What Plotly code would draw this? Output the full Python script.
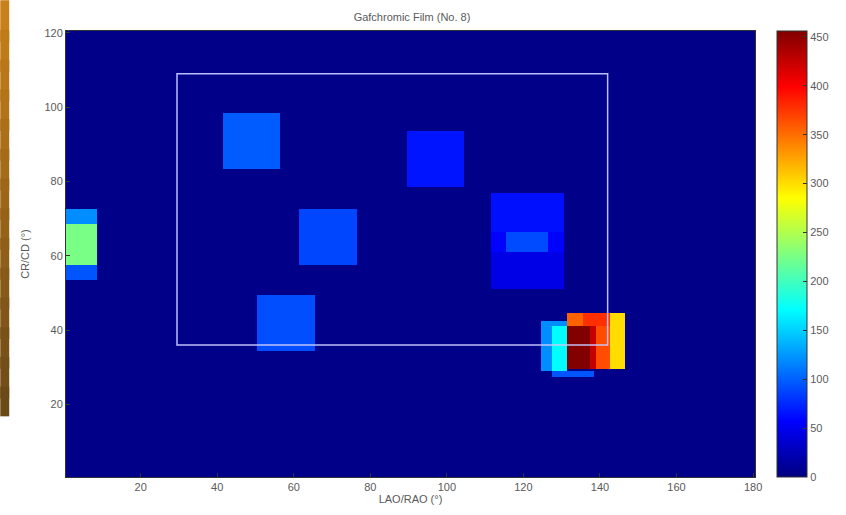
import numpy as np
import plotly.graph_objects as go

# Dose patches on the film: [x0, x1, y0, y1] in degrees and dose value.
# Later patches are painted over earlier ones.
patch_x0 = [0.5, 0.5, 0.5, 41.5, 61.5, 50.5, 89.5, 111.5, 111.5, 115.5, 111.5,
            124.5, 127.5, 127.5, 131.5, 135.5, 131.5, 131.5, 137.5, 139.0, 142.5]
patch_x1 = [8.5, 8.5, 8.5, 56.5, 76.5, 65.5, 104.5, 130.5, 130.5, 126.5, 130.5,
            131.5, 131.5, 138.5, 135.5, 142.5, 137.5, 137.5, 139.0, 142.5, 146.5]
patch_y0 = [53.5, 57.5, 68.5, 83.5, 57.5, 34.5, 78.5, 51.0, 61.0, 61.0, 66.5,
            29.0, 29.0, 27.5, 41.0, 41.0, 29.5, 29.5, 29.5, 29.5, 29.5]
patch_y1 = [72.5, 68.5, 72.5, 98.5, 72.5, 49.5, 93.5, 61.0, 66.5, 66.5, 77.0,
            42.5, 41.0, 29.0, 44.5, 44.5, 41.0, 41.0, 41.0, 41.0, 44.5]
patch_dose = [95, 225, 120, 98, 88, 92, 66, 46, 58, 90, 64,
              120, 170, 95, 355, 378, 445, 455, 425, 365, 300]
background_dose = 4

# Region of interest outline
roi_x = [29.5, 142.0]
roi_y = [36.0, 109.0]

x_range = [0.5, 180.5]
y_range = [0.5, 120.5]
dose_max = 456

x_ticks = [20, 40, 60, 80, 100, 120, 140, 160, 180]
y_ticks = [20, 40, 60, 80, 100, 120]
cbar_ticks = [0, 50, 100, 150, 200, 250, 300, 350, 400, 450]

# Build a brick grid from the patch edges
xe = np.unique(np.concatenate([patch_x0, patch_x1, x_range]))
ye = np.unique(np.concatenate([patch_y0, patch_y1, y_range]))
xc = (xe[:-1] + xe[1:]) / 2
yc = (ye[:-1] + ye[1:]) / 2
z = np.full((len(yc), len(xc)), float(background_dose))
for x0, x1, y0, y1, d in zip(patch_x0, patch_x1, patch_y0, patch_y1, patch_dose):
    mx = (xc > x0) & (xc < x1)
    my = (yc > y0) & (yc < y1)
    z[np.ix_(my, mx)] = d

jet = [
    [0.0, "rgb(0,0,128)"],
    [0.125, "rgb(0,0,255)"],
    [0.375, "rgb(0,255,255)"],
    [0.625, "rgb(255,255,0)"],
    [0.875, "rgb(255,0,0)"],
    [1.0, "rgb(128,0,0)"],
]

font_family = "Liberation Sans, Arial, sans-serif"
text_color = "#5a5a5a"

fig = go.Figure()
fig.add_trace(go.Heatmap(
    x=xe, y=ye, z=z,
    colorscale=jet, zmin=0, zmax=dose_max,
    hoverinfo="skip",
    colorbar=dict(
        x=1.032, xanchor="left", xpad=0,
        y=0, yanchor="bottom", len=1, lenmode="fraction",
        thickness=30, ypad=0,
        outlinecolor="#333333", outlinewidth=1,
        tickvals=cbar_ticks, ticks="inside", ticklen=4, tickcolor="#333333",
        tickfont=dict(family=font_family, size=11, color=text_color),
    ),
))

fig.add_shape(
    type="rect", xref="x", yref="y",
    x0=roi_x[0], x1=roi_x[1], y0=roi_y[0], y1=roi_y[1],
    line=dict(color="rgba(200,200,255,0.95)", width=1.5),
    fillcolor="rgba(0,0,0,0)",
)

# Amber strip along the left edge, shaded top to bottom
n_bands = 14
top_rgb = np.array([200, 128, 26])
bot_rgb = np.array([108, 74, 24])
strip_top, strip_bot = 1.069, 0.136
band_h = (strip_top - strip_bot) / n_bands
for i in range(n_bands):
    t = i / (n_bands - 1)
    c = (top_rgb * (1 - t) + bot_rgb * t).astype(int)
    ya = strip_top - band_h * i
    yb = max(strip_bot, ya - band_h * 1.4)
    fig.add_shape(
        type="rect", xref="paper", yref="paper",
        x0=-0.0954, x1=-0.0824, y0=yb, y1=ya,
        line=dict(width=0), fillcolor=f"rgb({c[0]},{c[1]},{c[2]})",
        layer="above",
    )

fig.update_layout(
    width=846, height=515,
    margin=dict(l=66, r=88, t=31, b=36),
    paper_bgcolor="white", plot_bgcolor="white",
    title=dict(text="Gafchromic Film (No. 8)", x=0.487, xanchor="center",
               y=0.967, yanchor="middle",
               font=dict(family=font_family, size=11, color=text_color)),
    font=dict(family=font_family, size=11, color=text_color),
)
fig.update_xaxes(
    range=x_range, tickvals=x_ticks, ticks="inside", ticklen=4,
    tickcolor="#333333", showgrid=False, zeroline=False,
    showline=True, linecolor="#333333", linewidth=1, mirror=True,
    title=dict(text="LAO/RAO (°)", standoff=2,
               font=dict(family=font_family, size=11, color=text_color)),
    tickfont=dict(family=font_family, size=11, color=text_color),
)
fig.update_yaxes(
    range=y_range, tickvals=y_ticks, ticks="inside", ticklen=4,
    tickcolor="#333333", showgrid=False, zeroline=False,
    showline=True, linecolor="#333333", linewidth=1, mirror=True,
    title=dict(text="CR/CD (°)", standoff=12,
               font=dict(family=font_family, size=11, color=text_color)),
    tickfont=dict(family=font_family, size=11, color=text_color),
)

fig.write_html("out.html")
